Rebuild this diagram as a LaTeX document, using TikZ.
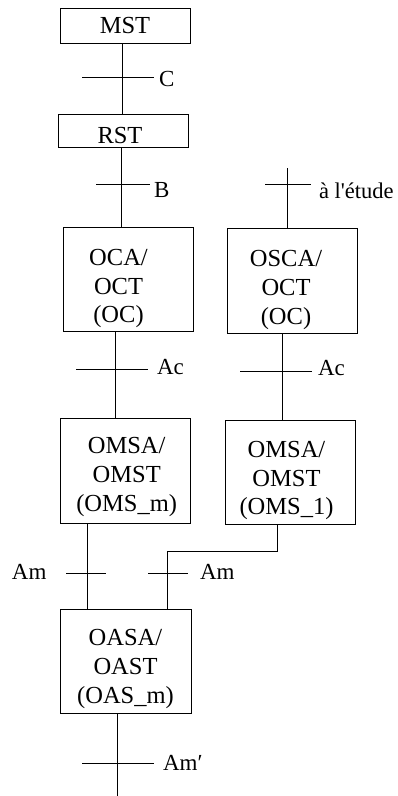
\documentclass[tikz,border=0pt]{standalone}
\usepackage{fontspec}
\setmainfont{Liberation Serif}[Ligatures=TeXOff]
\begin{document}
\begin{tikzpicture}[x=1pt,y=-1pt,
  every node/.style={inner sep=0pt, outer sep=0pt},
  line/.style={line width=0.8pt, draw=black},
  box/.style={draw=black, line width=0.8pt, fill=none, rectangle},
  boxtext/.style={align=center, font=\fontsize{24.5}{28.8}\selectfont},
  lbl/.style={anchor=base west, font=\fontsize{23}{28.8}\selectfont}]
\useasboundingbox[fill=white] (0,0) rectangle (398,796);

% boxes
\node[box, minimum width=130pt, minimum height=35pt]  (mst)  at (125,25.5) {};
\node[box, minimum width=130pt, minimum height=33pt]  (rst)  at (123,130.5) {};
\node[box, minimum width=130pt, minimum height=104pt] (oca)  at (128,279) {};
\node[box, minimum width=130pt, minimum height=105pt] (osca) at (292,280.5) {};
\node[box, minimum width=130pt, minimum height=105pt] (omsm) at (125,470.5) {};
\node[box, minimum width=130pt, minimum height=104pt] (oms1) at (290,472) {};
\node[box, minimum width=131pt, minimum height=104pt] (oasa) at (125.5,661) {};

% box texts
\node[boxtext] (mstt)  at (125,25.7) {MST};
\node[boxtext] (rstt)  at (120,135.7) {RST};
\node[boxtext] (ocat)  at (118.5,288.5) {OCA/\\OCT\\(OC)};
\node[boxtext] (oscat) at (286,290) {OSCA/\\OCT\\(OC)};
\node[boxtext] (omsmt) at (126.7,477) {OMSA/\\OMST\\(OMS\_m)};
\node[boxtext] (oms1t) at (286.5,480.5) {OMSA/\\OMST\\(OMS\_1)};
\node[boxtext] (oasat) at (125.5,669) {OASA/\\OAST\\(OAS\_m)};

% free ends
\coordinate (studytop) at (287,168);
\coordinate (bottomend) at (117,796);
\coordinate (bendA) at (277,551);
\coordinate (bendB) at (167,551);

% connectors
\draw[line] (122,0 |- mst.south) -- (122,0 |- rst.north);
\draw[line] (121.5,0 |- rst.south) -- (121.5,0 |- oca.north);
\draw[line] (115,0 |- oca.south) -- (115,0 |- omsm.north);
\draw[line] (studytop) -- (287,0 |- osca.north);
\draw[line] (282,0 |- osca.south) -- (282,0 |- oms1.north);
\draw[line] (87,0 |- omsm.south) -- (87,0 |- oasa.north);
\draw[line] (277,0 |- oms1.south) -- (bendA) -- (bendB) -- (167,0 |- oasa.north);
\draw[line] (117,0 |- oasa.south) -- (bottomend);

% ticks
\draw[line] (82,77) -- (154,77);
\draw[line] (96,184.5) -- (150,184.5);
\draw[line] (265,184) -- (311,184);
\draw[line] (76,369) -- (148,369);
\draw[line] (240,371) -- (312,371);
\draw[line] (66,573) -- (106,573);
\draw[line] (148,573) -- (188,573);
\draw[line] (82,763) -- (154,763);

% labels
\node[lbl] (lc)  at (159,86) {C};
\node[lbl] (lb)  at (154,197) {B};
\node[lbl, font=\fontsize{22.5}{28.8}\selectfont] (le)  at (319,198) {à l'étude};
\node[lbl] (lac1) at (157,374) {Ac};
\node[lbl] (lac2) at (318,375) {Ac};
\node[lbl] (lam1) at (12,579) {Am};
\node[lbl] (lam2) at (200,579) {Am};
\node[lbl] (lam3) at (163,770) {Am′};
\end{tikzpicture}
\end{document}
